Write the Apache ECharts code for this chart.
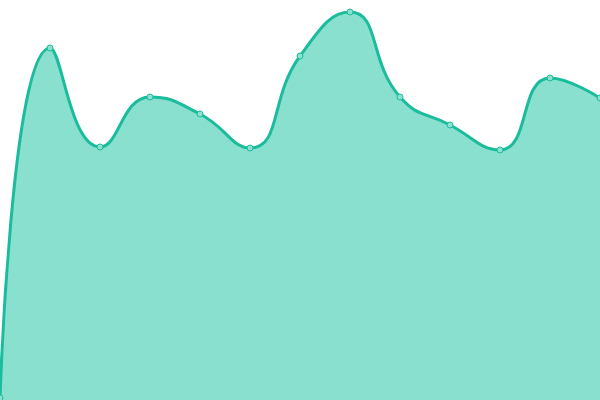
<!DOCTYPE html>
<html><head><meta charset="utf-8">
<script src="https://cdn.jsdelivr.net/npm/echarts@6/dist/echarts.min.js"></script>
<style>html,body{margin:0;padding:0;background:#fff}#c{width:600px;height:400px}</style>
</head><body><div id="c"></div>
<script>
var categories = ['1','2','3','4','5','6','7','8','9','10','11','12','13'];
var values = [2, 352, 253, 303, 286, 252, 344, 388, 303, 275, 250, 322, 302];
var chart = echarts.init(document.getElementById('c'));
chart.setOption({
  animation: false,
  grid: {left: 0, right: 0, top: 0, bottom: 0},
  xAxis: {type: 'category', data: categories, boundaryGap: false, show: false},
  yAxis: {type: 'value', min: 0, max: 400, show: false},
  series: [{
    type: 'line',
    data: values,
    smooth: true,
    symbol: 'circle',
    symbolSize: 6,
    lineStyle: {color: '#1abc9c', width: 3},
    itemStyle: {color: '#8ce0cf', borderColor: '#1abc9c', borderWidth: 1},
    areaStyle: {color: '#8ae0cf', opacity: 1}
  }]
});
</script></body></html>
